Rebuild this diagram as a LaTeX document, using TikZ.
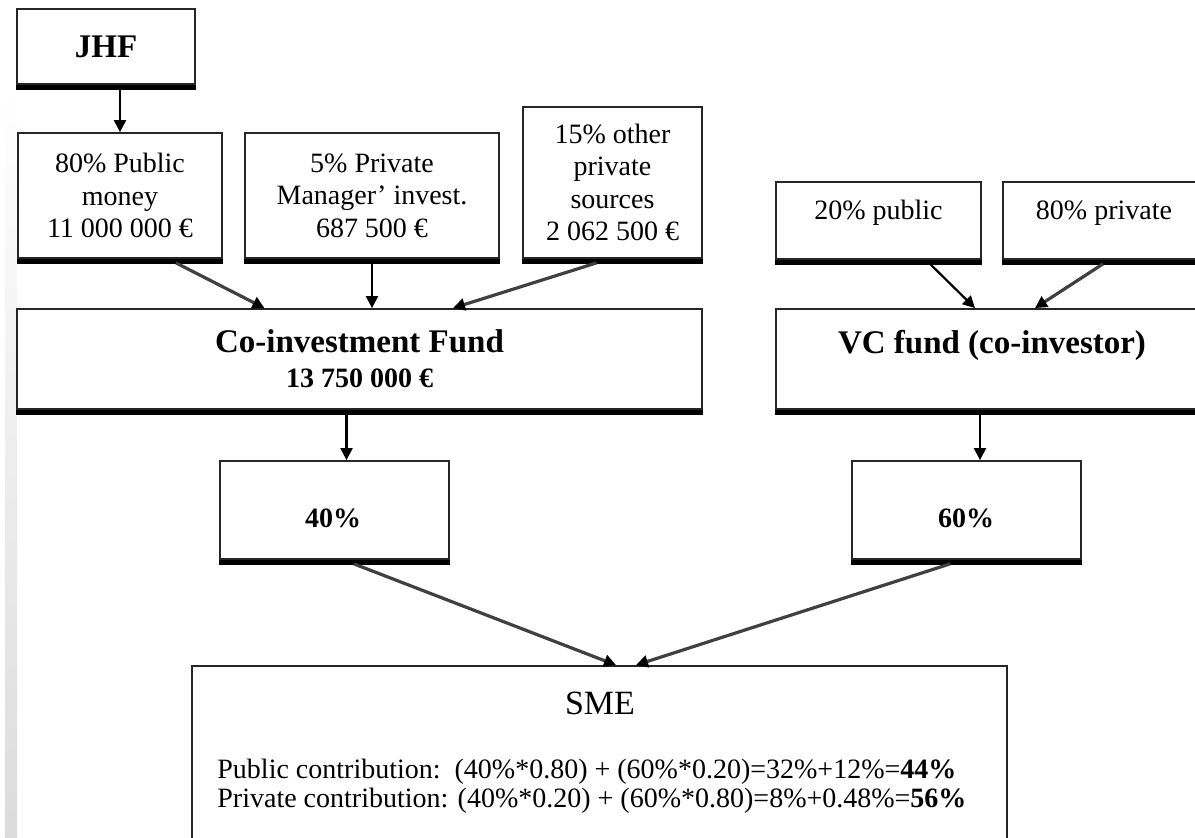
\documentclass[tikz,border=0pt]{standalone}
\usepackage{fontspec}
\setmainfont{Liberation Serif}
\usetikzlibrary{calc,arrows.meta}
\newcommand\HeadFnt{\fontsize{16.5}{19}\bfseries\selectfont}
\newcommand\BodyFnt{\fontsize{14}{16.2}\selectfont}
\newcommand\NumFnt{\fontsize{14}{16.2}\bfseries\selectfont}
\begin{document}
\begin{tikzpicture}[x=0.5pt,y=-0.5pt,
  box/.style={draw=black!85, line width=0.9pt, inner sep=0pt, fill=white},
  body/.style={font=\BodyFnt, inner sep=0pt, align=center},
  arr/.style={line width=1.1pt, -{Triangle[length=6pt,width=6pt,color=black,fill=black]}},
  darr/.style={arr, draw=black!75, line width=1.6pt},
  shadowbar/.style={line width=2.5pt, black}]
\useasboundingbox (0,0) rectangle (1195,837);
\clip (0,0) rectangle (1195,837);
\shade[top color=white, bottom color=black!14] (5,90) rectangle (17,837);

% boxes
\node[box, minimum width=89pt, minimum height=37.5pt, font=\HeadFnt] (jhf) at (106,46.5) {JHF};
\node[box, body, minimum width=102pt, minimum height=62.5pt] (p80) at (120,195.5) {80\% Public\\money\\11 000 000 €};
\node[box, body, minimum width=127pt, minimum height=62.5pt] (p5) at (372,195.5) {5\% Private\\Manager’ invest.\\687 500 €};
\node[box, body, minimum width=89.5pt, minimum height=75.5pt] (p15) at (612.5,182.5) {15\% other\\private\\sources\\2 062 500 €};
\node[box, minimum width=342.5pt, minimum height=50pt, align=center, inner sep=0pt] (coinv) at (359.5,359) {\HeadFnt Co-investment Fund\\[5.5pt]\NumFnt 13 750 000 €};
\node[box, minimum width=102.5pt, minimum height=38.5pt] (pub20) at (878.5,220.5) {};
\node[box, minimum width=102.5pt, minimum height=38.5pt] (priv80) at (1105.5,220.5) {};
\node[box, minimum width=217pt, minimum height=50pt] (vc) at (993,359) {};
\node[box, minimum width=114.5pt, minimum height=49pt] (b40) at (334.5,510) {};
\node[box, minimum width=114.5pt, minimum height=49pt] (b60) at (966.5,510) {};
\node[box, minimum width=407.5pt, minimum height=117pt] (sme) at (599.5,783) {};

% shadows
\foreach \n in {jhf,p80,p5,p15,coinv,pub20,priv80,vc,b40,b60}
  \draw[shadowbar] ($(\n.south west)+(0,2.5)$) -- ($(\n.south east)+(0,2.5)$);

% texts
\node[body] (tpub) at (878.5,213) {20\% public};
\node[body] (tpriv) at (1104,213) {80\% private};
\node[font=\HeadFnt, inner sep=0pt] (tvc) at (992,345) {VC fund (co-investor)};
\node[font=\NumFnt, inner sep=0pt] (t40) at (333,518) {40\%};
\node[font=\NumFnt, inner sep=0pt] (t60) at (966,518) {60\%};
\node[font=\fontsize{17}{20}\selectfont, inner sep=0pt] (tsme) at (600,703) {SME};
\node[font=\BodyFnt, inner sep=0pt, anchor=west] (l1) at (217,772) {Public contribution:\ \ (40\%*0.80) + (60\%*0.20)=32\%+12\%=\textbf{44\%}};
\node[font=\BodyFnt, inner sep=0pt, anchor=west] (l2) at (217,801) {Private contribution: (40\%*0.20) + (60\%*0.80)=8\%+0.48\%=\textbf{56\%}};

% connectors
\draw[arr] (jhf.south -| p80.north) -- (p80.north);
\draw[darr] ($(p80.south)+(56,4)$) -- ($(coinv.north)+(-95,0)$);
\draw[arr] ($(p5.south)+(0,4)$) -- (p5.south |- coinv.north);
\draw[darr] ($(p15.south)+(-16,4)$) -- ($(coinv.north)+(93.5,0)$);
\draw[arr] ($(pub20.south)+(51.5,4)$) -- ($(vc.north)+(-18,0)$);
\draw[darr] ($(priv80.south)+(-2.5,4)$) -- ($(vc.north)+(42,0)$);
\coordinate (c40) at ($(b40.north)+(12,0)$);
\coordinate (c60) at ($(b60.north)+(13.5,0)$);
\draw[arr] (c40 |- coinv.south) -- (c40);
\draw[arr] (c60 |- vc.south) -- (c60);
\draw[darr] ($(b40.south)+(19.5,4)$) -- ($(sme.north)+(16.5,0)$);
\draw[darr] ($(b60.south)+(-16.5,4)$) -- ($(sme.north)+(36.5,0)$);
\end{tikzpicture}
\end{document}
